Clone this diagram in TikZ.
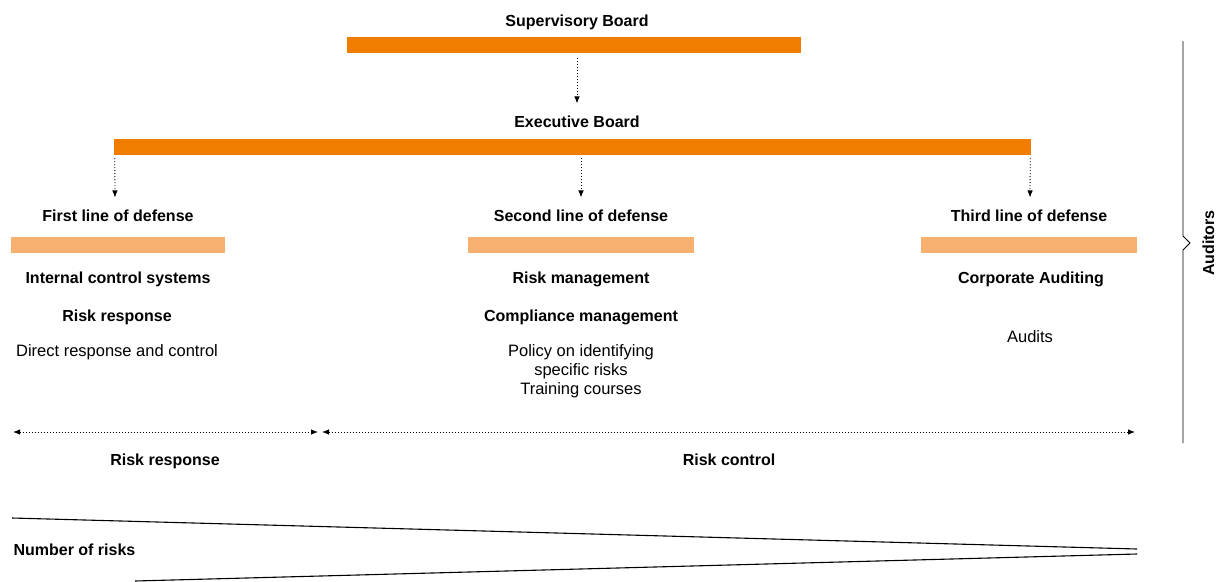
\documentclass[tikz,border=0pt]{standalone}
\usepackage{fontspec}
\setmainfont{Liberation Sans}
\usetikzlibrary{arrows.meta}

\definecolor{boardorange}{HTML}{F07D00}
\definecolor{lineorange}{HTML}{F8B070}

\tikzset{
  head/.style={font=\fontsize{16}{19}\selectfont\bfseries, text height=12pt, text depth=0pt},
  body/.style={font=\fontsize{16.5}{19}\selectfont, align=center, yshift=-2pt},
  bar/.style={fill=boardorange, inner sep=0pt, minimum height=16pt},
  subbar/.style={fill=lineorange, inner sep=0pt, minimum height=16pt},
  link/.style={-{Latex[length=7pt,width=5.5pt]}, line width=0.8pt, dash pattern=on 1pt off 2pt},
  span/.style={{Latex[length=7pt,width=5.5pt]}-{Latex[length=7pt,width=5.5pt]}, line width=0.8pt, dash pattern=on 1pt off 2pt},
  edge/.style={line width=1.1pt},
}

\begin{document}
\begin{tikzpicture}
    [x=1pt, y=-1pt]

    \useasboundingbox (0,0) rectangle (1220,581);

    \node at (577,  20) (nsup) [head] {Supervisory Board};
    \node at (574,  45) (bsup) [bar, minimum width=454pt] {};
    \node at (577, 121) (nexe) [head] {Executive Board};
    \node at (572.5, 147) (bexe) [bar, minimum width=917pt] {};

    \node at (118, 215) (n1a) [head] {First line of defense};
    \node at (581, 215) (n2a) [head] {Second line of defense};
    \node at (1029, 215) (n3a) [head] {Third line of defense};

    \node at (118, 245) (b1) [subbar, minimum width=214pt] {};
    \node at (581, 245) (b2) [subbar, minimum width=226pt] {};
    \node at (1029, 245) (b3) [subbar, minimum width=216pt] {};

    \node at (118, 277) (n1b) [head] {Internal control systems};
    \node at (117, 315) (n1c) [head] {Risk response};
    \node at (117, 350) (n1d) [body] {Direct response and control};

    \node at (581, 277) (n2b) [head] {Risk management};
    \node at (581, 315) (n2c) [head] {Compliance management};
    \node at (581, 369) (n2d) [body] {Policy on identifying\\specific risks\\Training courses};

    \node at (1031, 277) (n3b) [head] {Corporate Auditing};
    \node at (1030, 335) (n3c) [body] {Audits};

    \draw [link, shorten >=8pt] ([yshift=-5pt]bsup.south -| nsup) -- (nexe.north);
    \draw [link, shorten >=8pt] ([yshift=-3pt]bexe.south west) ++ (1,0) -- (n1a.north -| 115,0);
    \draw [link, shorten >=8pt] ([yshift=-3pt]bexe.south -| n2a) -- (n2a.north);
    \draw [link, shorten >=8pt] ([yshift=-3pt]bexe.south east) ++ (-1,0) -- (n3a.north -| 1030,0);

    \coordinate (s0) at (13, 432);
    \coordinate (s1) at (318, 432);
    \coordinate (s2) at (322, 432);
    \coordinate (s3) at (1135, 432);

    \draw [span] (s0) -- (s1);
    \draw [span] (s2) -- (s3);

    \node at (165, 459) (nresp) [head] {Risk response};
    \node at (729, 459) (nctrl) [head] {Risk control};

    \draw [line width=0.9pt] (1183, 41) -- (1183, 236) -- (1190, 243) -- (1183, 250) -- (1183, 443);
    \node at (1208, 243) (naud) [head, rotate=90] {Auditors};

    \draw [edge] (12, 518) -- (1137, 549);
    \draw [edge] (135, 581) -- (1137, 554);
    \node at (10, 549) (nrisk) [head, anchor=west] {Number of risks};

  \end{tikzpicture}
\end{document}
